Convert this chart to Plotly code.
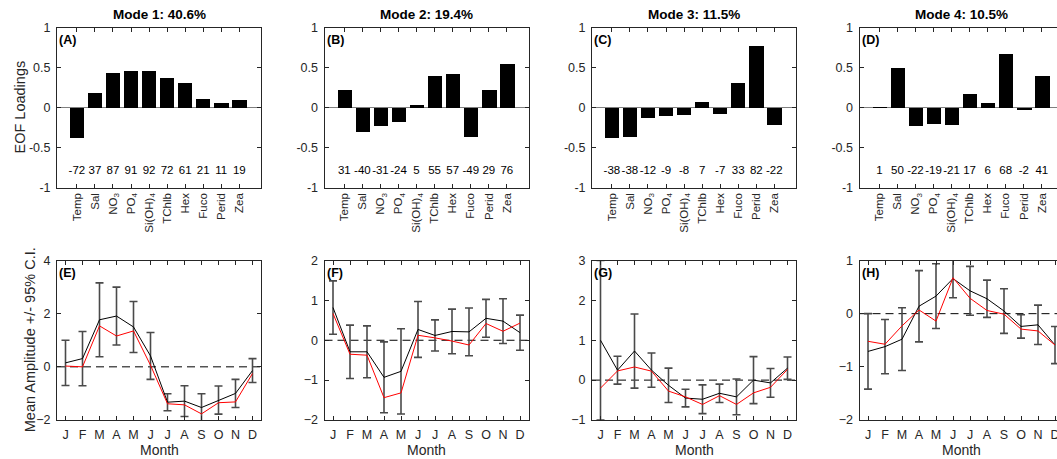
import plotly.graph_objects as go

W, H = 1057, 459

# ---- data -------------------------------------------------------------
variables = ["Temp", "Sal", "NO<sub>3</sub>", "PO<sub>4</sub>", "Si(OH)<sub>4</sub>",
             "TChlb", "Hex", "Fuco", "Perid", "Zea"]
months = ["J", "F", "M", "A", "M", "J", "J", "A", "S", "O", "N", "D"]
mode_titles = ["Mode 1: 40.6%", "Mode 2: 19.4%", "Mode 3: 11.5%", "Mode 4: 10.5%"]
panel_tags_top = ["(A)", "(B)", "(C)", "(D)"]
panel_tags_bottom = ["(E)", "(F)", "(G)", "(H)"]

# EOF loadings per mode
loadings_1 = [-0.37, 0.19, 0.44, 0.46, 0.46, 0.37, 0.31, 0.11, 0.06, 0.10]
loadings_2 = [0.23, -0.30, -0.23, -0.175, 0.04, 0.40, 0.42, -0.36, 0.22, 0.55]
loadings_3 = [-0.37, -0.36, -0.12, -0.10, -0.09, 0.075, -0.075, 0.31, 0.77, -0.21]
loadings_4 = [0.01, 0.50, -0.225, -0.195, -0.21, 0.175, 0.06, 0.675, -0.025, 0.40]

# correlation (x100) printed under the bars
corr_1 = [-72, 37, 87, 91, 92, 72, 61, 21, 11, 19]
corr_2 = [31, -40, -31, -24, 5, 55, 57, -49, 29, 76]
corr_3 = [-38, -38, -12, -9, -8, 7, -7, 33, 82, -22]
corr_4 = [1, 50, -22, -19, -21, 17, 6, 68, -2, 41]

# monthly mean amplitude (black), 95% C.I. half width, alternative mean (red)
amp_mean_1 = [0.15, 0.31, 1.77, 1.91, 1.50, 0.41, -1.33, -1.29, -1.53, -1.25, -1.00, -0.14]
amp_ci_1 = [0.85, 1.02, 1.39, 1.09, 0.96, 0.88, 0.32, 0.58, 0.52, 0.53, 0.53, 0.45]
amp_red_1 = [0.03, 0.00, 1.54, 1.16, 1.35, 0.06, -1.39, -1.43, -1.77, -1.35, -1.32, -0.25]

amp_mean_2 = [0.82, -0.29, -0.29, -0.93, -0.78, 0.27, 0.12, 0.22, 0.21, 0.55, 0.48, 0.19]
amp_ci_2 = [0.67, 0.67, 0.65, 0.89, 1.07, 0.70, 0.39, 0.56, 0.60, 0.475, 0.56, 0.44]
amp_red_2 = [0.67, -0.35, -0.375, -1.44, -1.32, 0.125, 0.06, -0.02, -0.12, 0.42, 0.225, 0.43]

amp_mean_3 = [1.00, 0.25, 0.73, 0.25, -0.13, -0.45, -0.48, -0.33, -0.42, 0.00, -0.07, 0.30]
amp_ci_3 = [2.00, 0.35, 0.93, 0.43, 0.43, 0.22, 0.36, 0.23, 0.45, 0.59, 0.36, 0.28]
amp_red_3 = [-0.20, 0.23, 0.33, 0.225, -0.275, -0.42, -0.61, -0.39, -0.61, -0.32, -0.18, 0.27]

amp_mean_4 = [-0.71, -0.62, -0.48, 0.14, 0.33, 0.66, 0.43, 0.28, 0.05, -0.24, -0.21, -0.59]
amp_ci_4 = [0.71, 0.51, 0.59, 0.67, 0.61, 0.36, 0.46, 0.35, 0.42, 0.22, 0.37, 0.35]
amp_red_4 = [-0.52, -0.575, -0.23, 0.07, -0.14, 0.675, 0.29, 0.06, -0.01, -0.29, -0.325, -0.59]

amp_ranges = [[-2, 4], [-2, 2], [-1, 3], [-2, 1]]
amp_dticks = [2, 1, 1, 1]

loadings = [loadings_1, loadings_2, loadings_3, loadings_4]
corrs = [corr_1, corr_2, corr_3, corr_4]
amp_means = [amp_mean_1, amp_mean_2, amp_mean_3, amp_mean_4]
amp_cis = [amp_ci_1, amp_ci_2, amp_ci_3, amp_ci_4]
amp_reds = [amp_red_1, amp_red_2, amp_red_3, amp_red_4]

# ---- layout geometry (pixels) ------------------------------------------
FONT = "Liberation Sans, Arial, Helvetica, sans-serif"
AXC = "#262626"
panel_left = [57, 324.5, 592, 859.5]
PANEL_W = 204
TOP_Y = (27.5, 187.5)
BOT_Y = (260.5, 420)


def fx(p):
    return p / W


def fy(p):
    return 1 - p / H


def ax_id(n):
    return "" if n == 1 else str(n)


fig = go.Figure()
annotations = []
shapes = []
layout = {}

month_x = list(range(1, 13))
var_x = list(range(1, 11))

for i in range(4):
    x0 = panel_left[i]
    x1 = min(x0 + PANEL_W, W)
    frac = (x1 - x0) / PANEL_W
    dom_x = [fx(x0), fx(x1)]
    clipped = frac < 0.999

    tn = i + 1
    bn = i + 5
    tx, ty = "x" + ax_id(tn), "y" + ax_id(tn)
    bx, by = "x" + ax_id(bn), "y" + ax_id(bn)

    # --- loadings bars
    fig.add_trace(go.Bar(x=var_x, y=loadings[i], width=0.8,
                         marker=dict(color="black", line=dict(width=0)),
                         xaxis=tx, yaxis=ty, showlegend=False))
    fig.add_trace(go.Scatter(x=var_x, y=[-0.8] * 10, mode="text",
                             text=[str(v) for v in corrs[i]],
                             textfont=dict(family=FONT, size=11.5, color="black"),
                             xaxis=tx, yaxis=ty, showlegend=False))

    # --- monthly amplitude
    fig.add_trace(go.Scatter(x=month_x, y=amp_means[i], mode="markers",
                             marker=dict(size=1, color="rgba(0,0,0,0)"),
                             error_y=dict(type="data", array=amp_cis[i], symmetric=True,
                                          color="#4a4a4a", thickness=1.6, width=4),
                             xaxis=bx, yaxis=by, showlegend=False))
    fig.add_trace(go.Scatter(x=month_x, y=amp_means[i], mode="lines",
                             line=dict(color="black", width=1),
                             xaxis=bx, yaxis=by, showlegend=False))
    fig.add_trace(go.Scatter(x=month_x, y=amp_reds[i], mode="lines",
                             line=dict(color="red", width=1),
                             xaxis=bx, yaxis=by, showlegend=False))

    common = dict(showline=True, linecolor=AXC, linewidth=1, ticks="inside",
                  ticklen=4, tickcolor=AXC, tickwidth=1, showgrid=False,
                  zeroline=False, ticklabeloverflow="allow", automargin=False,
                  tickfont=dict(family=FONT, size=12, color=AXC))
    yfont = dict(family=FONT, size=12.5, color=AXC)

    layout["xaxis" + ax_id(tn)] = dict(common, domain=dom_x, anchor=ty, mirror="ticks",
                                       range=[-0.1, -0.1 + 11.3 * frac],
                                       tickvals=var_x, ticktext=variables, tickangle=-90,
                                       tickfont=dict(family=FONT, size=11.5, color=AXC))
    layout["yaxis" + ax_id(tn)] = dict(common, domain=[fy(TOP_Y[1]), fy(TOP_Y[0])],
                                       anchor=tx, mirror=False if clipped else "ticks",
                                       range=[-1, 1], tickvals=[-1, -0.5, 0, 0.5, 1],
                                       ticktext=["-1", "-0.5", "0", "0.5", "1"],
                                       tickfont=yfont, ticklabelstandoff=3,
                                       zeroline=True, zerolinecolor="#7f7f7f",
                                       zerolinewidth=1)

    layout["xaxis" + ax_id(bn)] = dict(common, domain=dom_x, anchor=by, mirror="ticks",
                                       range=[0.5, 0.5 + 12 * frac],
                                       tickvals=month_x, ticktext=months,
                                       tickfont=dict(family=FONT, size=12.5, color=AXC),
                                       ticklabelstandoff=3)
    layout["yaxis" + ax_id(bn)] = dict(common, domain=[fy(BOT_Y[1]), fy(BOT_Y[0])],
                                       anchor=bx, mirror=False if clipped else "ticks",
                                       range=amp_ranges[i], dtick=amp_dticks[i], tick0=0,
                                       tickfont=yfont, ticklabelstandoff=3)

    # dashed zero reference
    shapes.append(dict(type="line", xref=f"{bx} domain", yref=by, x0=0, x1=1,
                       y0=0, y1=0, line=dict(color="black", width=1, dash="8px,5px"),
                       layer="below"))

    cx = fx(x0 + PANEL_W / 2)
    annotations.append(dict(text=f"<b>{mode_titles[i]}</b>", xref="paper", yref="paper",
                            x=cx, y=fy(14.5), xanchor="center", yanchor="middle",
                            showarrow=False, font=dict(family=FONT, size=13.5, color="black")))
    annotations.append(dict(text="Month", xref="paper", yref="paper",
                            x=cx, y=fy(450), xanchor="center", yanchor="middle",
                            showarrow=False, font=dict(family=FONT, size=14, color=AXC)))
    annotations.append(dict(text=f"<b>{panel_tags_top[i]}</b>", xref=f"{tx} domain",
                            yref=f"{ty} domain", x=0, y=0.92, xanchor="left",
                            yanchor="middle", showarrow=False,
                            font=dict(family=FONT, size=12.5, color="black")))
    annotations.append(dict(text=f"<b>{panel_tags_bottom[i]}</b>", xref=f"{bx} domain",
                            yref=f"{by} domain", x=0, y=0.92, xanchor="left",
                            yanchor="middle", showarrow=False,
                            font=dict(family=FONT, size=12.5, color="black")))

annotations.append(dict(text="EOF Loadings", xref="paper", yref="paper",
                        x=fx(20), y=fy(sum(TOP_Y) / 2), textangle=-90,
                        xanchor="center", yanchor="middle", showarrow=False,
                        font=dict(family=FONT, size=14.5, color=AXC)))
annotations.append(dict(text="Mean Amplitude +/- 95% C.I.", xref="paper", yref="paper",
                        x=fx(30), y=fy(sum(BOT_Y) / 2), textangle=-90,
                        xanchor="center", yanchor="middle", showarrow=False,
                        font=dict(family=FONT, size=14.5, color=AXC)))

fig.update_layout(template="none", width=W, height=H, autosize=False,
                  margin=dict(l=0, r=0, t=0, b=0, pad=0),
                  paper_bgcolor="white", plot_bgcolor="white",
                  showlegend=False, bargap=0, font=dict(family=FONT, color=AXC),
                  annotations=annotations, shapes=shapes, **layout)

fig.write_html("out.html")
